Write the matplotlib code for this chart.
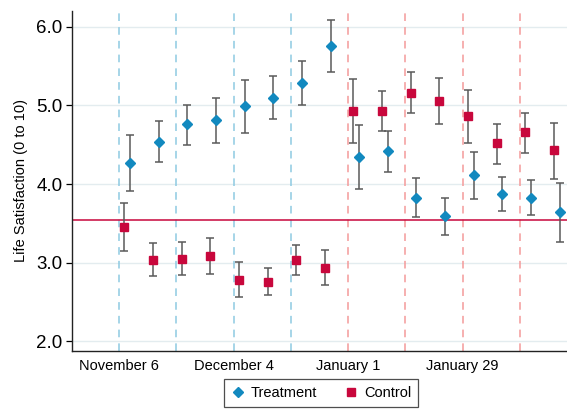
import matplotlib
matplotlib.use("Agg")
import matplotlib.pyplot as plt
from matplotlib.lines import Line2D
import numpy as np

plt.rcParams["font.family"] = ["Liberation Sans", "DejaVu Sans"]

# Weekly survey waves, expressed as days after November 6
wave_day = [2, 9, 16, 23, 30, 37, 44, 51, 58, 65, 72, 79, 86, 93, 100, 107]

treat_mean = [4.27, 4.54, 4.76, 4.81, 4.99, 5.09, 5.28, 5.76,
              4.35, 4.42, 3.83, 3.59, 4.12, 3.88, 3.82, 3.64]
treat_lo = [3.91, 4.28, 4.50, 4.52, 4.65, 4.83, 5.00, 5.43,
            3.94, 4.16, 3.58, 3.35, 3.81, 3.66, 3.61, 3.27]
treat_hi = [4.62, 4.80, 5.01, 5.09, 5.32, 5.37, 5.56, 6.08,
            4.75, 4.68, 4.08, 3.82, 4.41, 4.09, 4.05, 4.01]

ctrl_mean = [3.45, 3.04, 3.05, 3.09, 2.78, 2.76, 3.03, 2.94,
             4.93, 4.93, 5.16, 5.06, 4.86, 4.52, 4.66, 4.43]
ctrl_lo = [3.15, 2.83, 2.84, 2.86, 2.56, 2.59, 2.84, 2.72,
           4.52, 4.67, 4.90, 4.77, 4.52, 4.26, 4.40, 4.07]
ctrl_hi = [3.76, 3.25, 3.26, 3.31, 3.01, 2.93, 3.22, 3.16,
           5.34, 5.19, 5.42, 5.35, 5.20, 4.77, 4.91, 4.78]

baseline = 3.54

# Biweekly boundaries (days after November 6)
blue_marks = [0, 14, 28, 42]
red_marks = [56, 70, 84, 98]

tick_days = [0, 28, 56, 84]
tick_labels = ["November 6", "December 4", "January 1", "January 29"]
y_ticks = [2.0, 3.0, 4.0, 5.0, 6.0]

BLUE = "#1289bf"
RED = "#c8073c"
GRID = "#e3ecef"
BAR = "#5a5a5a"

fig = plt.figure(figsize=(5.67, 4.09), dpi=100)
ax = fig.add_axes([0.127, 0.142, 0.873, 0.831])

for y in y_ticks:
    ax.axhline(y, color=GRID, lw=1.0, zorder=0)

for d in blue_marks:
    ax.axvline(d, color="#8ecae2", lw=1.1, ls=(0, (5, 4)), zorder=1)
for d in red_marks:
    ax.axvline(d, color="#f49a9a", lw=1.1, ls=(0, (5, 4)), zorder=1)

ax.axhline(baseline, color=RED, lw=1.1, zorder=2)

days = np.array(wave_day, dtype=float)
off = 0.7

t = np.array(treat_mean)
c = np.array(ctrl_mean)
ax.errorbar(days + off, t, yerr=[t - np.array(treat_lo), np.array(treat_hi) - t],
            fmt="none", ecolor=BAR, elinewidth=1.1, capsize=2.8, capthick=1.1, zorder=3)
ax.errorbar(days - off, c, yerr=[c - np.array(ctrl_lo), np.array(ctrl_hi) - c],
            fmt="none", ecolor=BAR, elinewidth=1.1, capsize=2.8, capthick=1.1, zorder=3)
ax.plot(days + off, t, ls="none", marker="D", ms=5.6, color=BLUE, mec=BLUE, zorder=4)
ax.plot(days - off, c, ls="none", marker="s", ms=5.6, color=RED, mec=RED, zorder=4)

ax.set_xlim(-11.5, 109.5)
ax.set_ylim(1.88, 6.2)
ax.set_yticks(y_ticks)
ax.set_yticklabels([f"{v:.1f}" for v in y_ticks], fontsize=13.5)
ax.set_xticks(tick_days)
ax.set_xticklabels(tick_labels, fontsize=10.5)
ax.tick_params(axis="y", length=4, width=0.9, pad=3)
ax.tick_params(axis="x", length=0, pad=6)
ax.set_ylabel("Life Satisfaction (0 to 10)", fontsize=10.5, labelpad=6)

for s in ["top", "right"]:
    ax.spines[s].set_visible(False)
for s in ["left", "bottom"]:
    ax.spines[s].set_linewidth(1.0)
    ax.spines[s].set_color("#222222")

handles = [
    Line2D([], [], ls="none", marker="D", ms=5.6, color=BLUE, label="Treatment"),
    Line2D([], [], ls="none", marker="s", ms=5.6, color=RED, label="Control"),
]
leg = fig.legend(handles=handles, loc="center", bbox_to_anchor=(0.566, 0.039),
                 ncol=2, fontsize=10.5, frameon=True, fancybox=False,
                 edgecolor="#222222", handletextpad=0.4, columnspacing=1.8,
                 borderpad=0.45, handlelength=1.0)
leg.get_frame().set_linewidth(0.9)

fig.savefig("out.png", dpi=100)
